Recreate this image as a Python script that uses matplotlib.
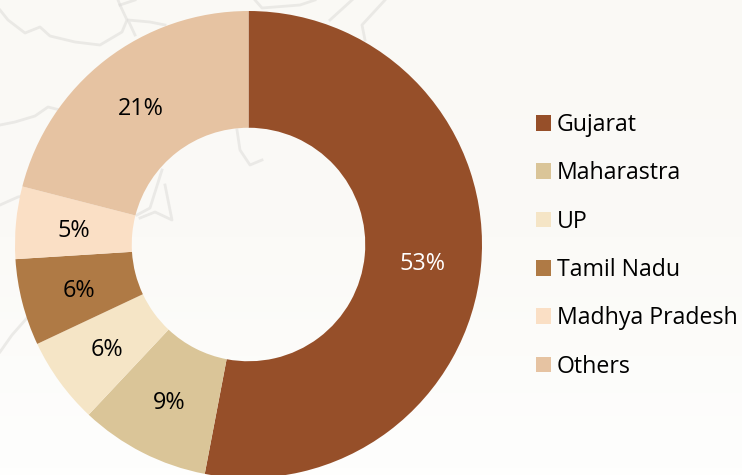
import numpy as np
import matplotlib
matplotlib.use("Agg")
import matplotlib.pyplot as plt

states = ["Gujarat", "Maharastra", "UP", "Tamil Nadu", "Madhya Pradesh", "Others"]
shares = [53, 9, 6, 6, 5, 21]
colors = ["#964F29", "#DAC598", "#F5E5C6", "#AF7A45", "#FADFC5", "#E6C3A2"]

plt.rcParams['font.family'] = ['Open Sans', 'DejaVu Sans']

W, H = 742, 475
fig = plt.figure(figsize=(W / 100, H / 100), dpi=100)

# background, off-white fading to white towards the bottom
bg = fig.add_axes([0, 0, 1, 1], frameon=False)
bg.imshow(np.linspace(0, 1, 64).reshape(-1, 1), aspect='auto', cmap=matplotlib.colors.LinearSegmentedColormap.from_list("bg", ["#FAF9F5", "#FBFAF7", "#FEFEFD"]),
          extent=[0, W, H, 0])
# faint map outline behind the chart
outlines = [
    [(0, 10), (8, 20), (25, 33), (40, 27), (50, 36), (75, 42), (100, 45), (122, 32), (127, 20), (120, 5), (118, 0)],
    [(120, 5), (135, 0)],
    [(135, 35), (128, 20), (150, 22), (165, 25)],
    [(0, 125), (15, 122), (35, 116), (48, 107), (60, 110)],
    [(0, 205), (18, 197), (28, 195)],
    [(0, 352), (12, 335), (27, 318)],
    [(137, 215), (150, 208), (162, 170)],
    [(140, 218), (155, 212), (172, 220), (165, 185)],
    [(237, 130), (240, 150), (250, 165), (262, 160)],
    [(255, 0), (262, 8), (300, 5), (315, 0)],
    [(330, 20), (352, 0)],
    [(365, 40), (362, 25), (385, 0)],
]
for o in outlines:
    p = np.array(o)
    bg.plot(p[:, 0], p[:, 1], color="#DDDCD9", lw=2.0, alpha=0.55, solid_joinstyle='round')
bg.set_xlim(0, W)
bg.set_ylim(H, 0)
bg.axis('off')

ax = fig.add_axes([0, 0, 1, 1], frameon=False)
wedges, texts, autotexts = ax.pie(
    shares, colors=colors, startangle=90, counterclock=False, radius=1,
    wedgeprops=dict(width=0.5, linewidth=0), autopct=lambda v: f"{round(v)}%", pctdistance=0.75,
    textprops=dict(fontsize=16.8, color='black'))
autotexts[0].set_color('white')
for t in autotexts:
    t.set_position((t.get_position()[0], t.get_position()[1] - 0.012))

# donut centre at about (248.5, 244.5) px, the bottom edge just runs off the image
R, cx, cy = 233.5, 248.5, 244.5
ax.set_xlim(-cx / R, (W - cx) / R)
ax.set_ylim(-(H - cy) / R, cy / R)

fig.legend(wedges, states, loc='upper left', bbox_to_anchor=(529 / W, 1 - 106 / H),
           frameon=False, fontsize=16.7, labelcolor='black', handlelength=0.65,
           handleheight=0.65, handletextpad=0.25, labelspacing=1.05, borderpad=0.3, borderaxespad=0)

fig.savefig('out.png', dpi=100, facecolor='white')
